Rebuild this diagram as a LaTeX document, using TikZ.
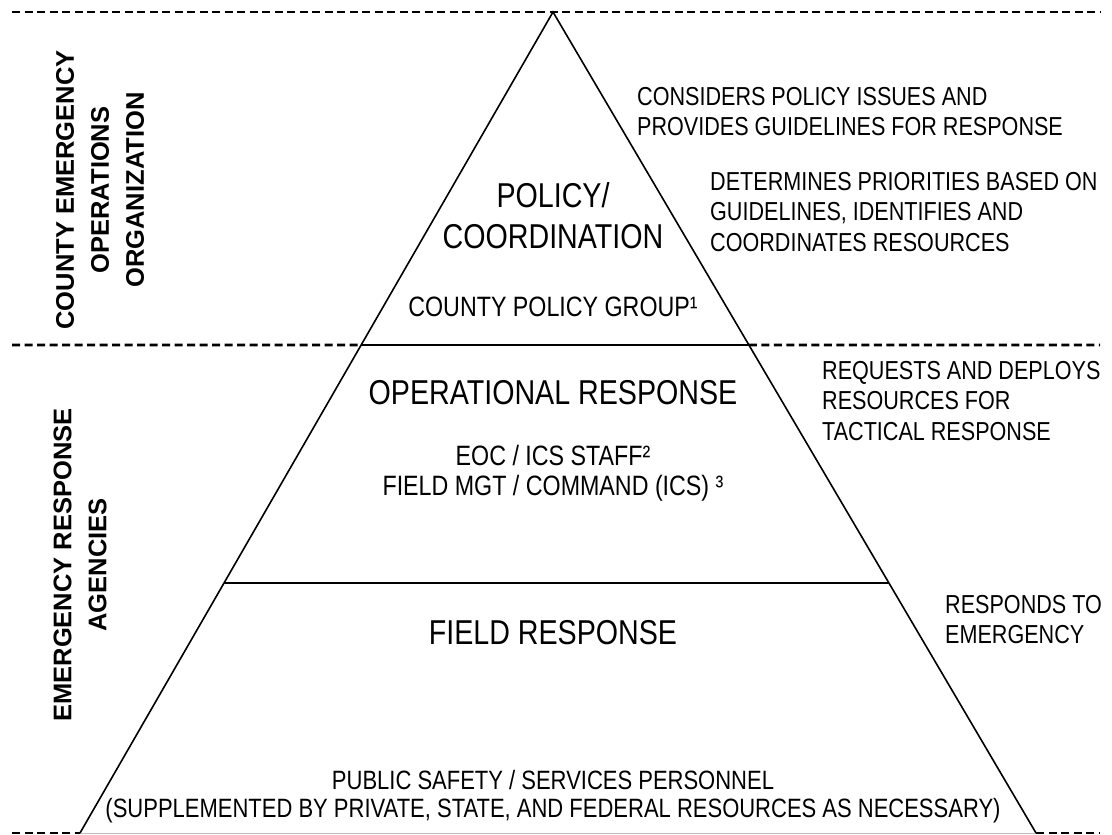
\documentclass[tikz,border=0pt]{standalone}
\usepackage{fontspec}
\setmainfont{Liberation Sans}[FakeStretch=0.83]
\newfontfamily\sidefont{Liberation Sans}
\usetikzlibrary{calc}

\begin{document}
\begin{tikzpicture}[x=1pt,y=-1pt,
  sep/.style={line width=2.8pt,dash pattern=on 8pt off 4.5pt},
  edge/.style={line width=1.6pt},
  title/.style={font=\fontsize{34.5}{41}\selectfont,inner sep=0pt,anchor=north,align=center},
  txt/.style={font=\fontsize{28}{30}\selectfont,inner sep=0pt,anchor=north,align=center},
  note/.style={font=\fontsize{26}{30.5}\selectfont,inner sep=0pt,anchor=north west,align=left},
  side/.style={font=\sidefont\bfseries\fontsize{25.5}{35}\selectfont,inner sep=0pt,rotate=90,align=center}]
\useasboundingbox (0,0) rectangle (1112,835);

% pyramid
\coordinate (apex) at (553,12);
\coordinate (bl) at (80,833);
\coordinate (br) at (1036,833);
\coordinate (l1) at ($(apex)!0.4056!(bl)$);
\coordinate (r1) at ($(apex)!0.4056!(br)$);
\coordinate (l2) at ($(apex)!0.6955!(bl)$);
\coordinate (r2) at ($(apex)!0.6955!(br)$);
\coordinate (tw) at (12,12);
\coordinate (te) at (1100,12);
\coordinate (mw) at (12,345);
\coordinate (me) at (1100,345);
\coordinate (bw) at (12,833);
\coordinate (be) at (1100,833);

\draw[sep] (tw) -- (te);
\draw[sep] (mw) -- (l1);
\draw[sep] (r1) -- (me);
\draw[sep] (bw) -- (bl);
\draw[sep] (br) -- (be);
\draw[gray!50,line width=1pt] (bl) -- (br);
\draw[edge] (l1) -- (r1);
\draw[edge] (l2) -- (r2);
\draw[edge,line join=miter] (bl) -- (apex) -- (br);

% levels
\node[title] (policy) at (553,182) {POLICY/\\COORDINATION};
\node[txt] (group) at (553,297) {COUNTY POLICY GROUP¹};
\node[title] (oper) at (553,380) {OPERATIONAL RESPONSE};
\node[txt] (staff) at (553,445) {EOC / ICS STAFF²\\FIELD MGT / COMMAND (ICS) ³};
\node[title] (field) at (553,620) {FIELD RESPONSE};
\node[txt,font=\fontsize{26.5}{28}\selectfont] (public) at (553,770)
  {PUBLIC SAFETY / SERVICES PERSONNEL\\(SUPPLEMENTED BY PRIVATE, STATE, AND FEDERAL RESOURCES AS NECESSARY)};

% roles
\node[note] (considers) at (637,87) {CONSIDERS POLICY ISSUES AND\\PROVIDES GUIDELINES FOR RESPONSE};
\node[note] (determines) at (710,172) {DETERMINES PRIORITIES BASED ON\\GUIDELINES, IDENTIFIES AND\\COORDINATES RESOURCES};
\node[note] (requests) at (822,361) {REQUESTS AND DEPLOYS\\RESOURCES FOR\\TACTICAL RESPONSE};
\node[note] (responds) at (945,595) {RESPONDS TO\\EMERGENCY};

% sides
\node[side] (county) at (100,190) {COUNTY EMERGENCY\\OPERATIONS\\ORGANIZATION};
\node[side] (agencies) at (80,565) {EMERGENCY RESPONSE\\AGENCIES};
\end{tikzpicture}
\end{document}
